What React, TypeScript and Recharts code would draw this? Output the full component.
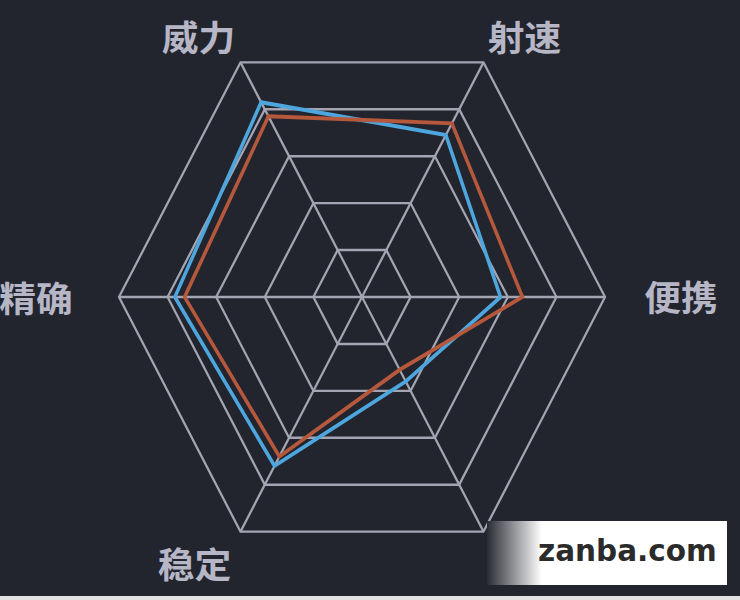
import { RadarChart, Radar, PolarGrid, PolarAngleAxis, PolarRadiusAxis } from "recharts";

const stats = ["威力", "射速", "便携", "射程", "稳定", "精确"];
const blueValues = [83, 69, 57, 36, 72, 77];
const orangeValues = [77, 74, 66, 31, 68, 73];
// the label of this axis is covered by the watermark in the reference
const hiddenLabels = ["射程"];

const data = stats.map((name, i) => ({ name, blue: blueValues[i], orange: orangeValues[i] }));

const CX = 362;
const CY = 297;
const R = 243;
const SY = 1.115; // the reference is stretched vertically

// where each label's centre sits relative to its outer vertex (page px)
const labelOffset: Record<string, [number, number]> = {
  威力: [-42, -27],
  射速: [41, -27],
  便携: [76, -2],
  射程: [46, 31],
  稳定: [-46, 31],
  精确: [-83, -1],
};

const StatTick = (props: any) => {
  const { payload } = props;
  const name = payload.value as string;
  if (hiddenLabels.includes(name)) return <g />;
  const a = (payload.coordinate * Math.PI) / 180;
  const vx = CX + R * Math.cos(a);
  const vyFinal = CY - R * Math.sin(a) * SY;
  const [dx, dy] = labelOffset[name] || [0, 0];
  const x = vx + dx;
  const y = CY + (vyFinal + dy - CY) / SY;
  return (
    <text
      transform={`translate(${x},${y}) scale(1.05,${1 / SY})`}
      textAnchor="middle"
      dominantBaseline="central"
      fill="#b6b6c6"
      fontSize={35}
      fontWeight={700}
      fontFamily="'Noto Sans CJK SC', sans-serif"
    >
      {name}
    </text>
  );
};

export default function App() {
  return (
    <div
      style={{
        position: "absolute",
        left: 0,
        top: 0,
        width: 740,
        height: 600,
        background: "#22252e",
        overflow: "hidden",
      }}
    >
      <div style={{ transform: `scaleY(${SY})`, transformOrigin: `${CX}px ${CY}px` }}>
        <RadarChart width={740} height={600} data={data} cx={CX} cy={CY} outerRadius={R} startAngle={120} endAngle={-240}>
          <PolarGrid stroke="#a4a4b2" strokeWidth={2.2} />
          <PolarRadiusAxis domain={[0, 100]} tickCount={6} tick={false} axisLine={false} />
          <PolarAngleAxis dataKey="name" tick={<StatTick />} tickLine={false} axisLine={false} />
          <Radar dataKey="blue" stroke="#4ea6de" strokeWidth={3.5} fill="none" isAnimationActive={false} />
          <Radar dataKey="orange" stroke="#b5583c" strokeWidth={3.5} fill="none" isAnimationActive={false} />
        </RadarChart>
      </div>
      <div
        style={{
          position: "absolute",
          left: 487,
          top: 521,
          width: 240,
          height: 64,
          background: "linear-gradient(to right, #2a2c35 0px, #ffffff 55px)",
        }}
      >
        <span
          style={{
            position: "absolute",
            left: 51,
            top: 13,
            fontFamily: "'DejaVu Sans', sans-serif",
            fontWeight: 700,
            fontSize: 29.5,
            color: "#2b2b2b",
          }}
        >
          zanba.com
        </span>
      </div>
      <div style={{ position: "absolute", left: 0, top: 596, width: 740, height: 4, background: "#e2e2e2" }} />
    </div>
  );
}
